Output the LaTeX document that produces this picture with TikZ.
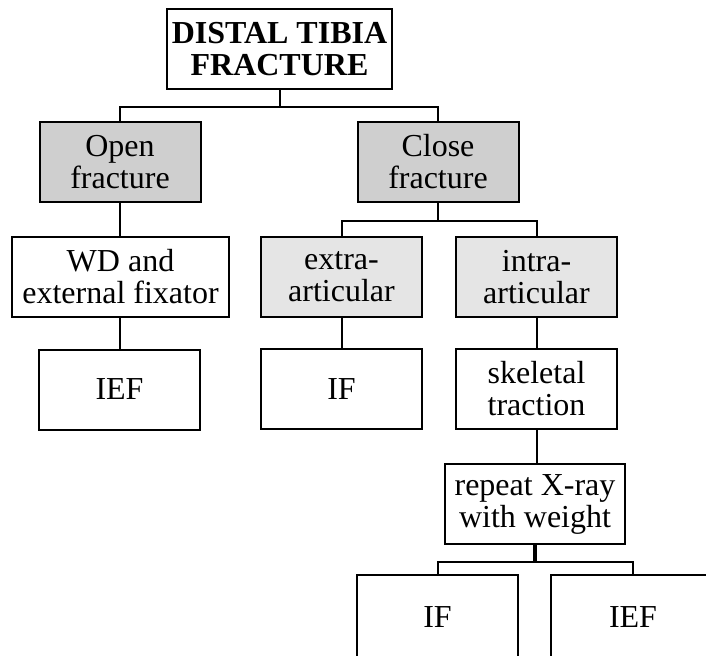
\documentclass[tikz,border=0pt]{standalone}
\usepackage{fontspec}
\setmainfont{Liberation Serif}
\usepackage{tikz}
\definecolor{fracture gray}{rgb}{0.81, 0.81, 0.81}
\definecolor{articular gray}{rgb}{0.90, 0.90, 0.90}

\begin{document}
\begin{tikzpicture}[x=0.5pt, y=-0.5pt,
		box/.style={draw, line width=1pt, fill=white, align=center, inner sep=0pt,
			minimum width=80.5pt, minimum height=40pt, font=\fontsize{16}{16}\selectfont},
		link/.style={line width=1pt}]
			\useasboundingbox (0, 0) rectangle (706, 655);
			\clip (0, 0) rectangle (706, 655);
			% root
			\node[box, minimum width=112.5pt, font=\fontsize{16}{16}\selectfont\bfseries] (root) at (279.5, 49) {DISTAL TIBIA\\FRACTURE};
			% open side
			\node[box, fill=fracture gray] (open) at (120, 162) {Open\\fracture};
			\node[box, minimum width=108.5pt] (wd) at (120.5, 276.5) {WD and\\external fixator};
			\node[box] (iefleft) at (119.5, 389.5) {IEF};
			% closed side
			\node[box, fill=fracture gray] (close) at (438, 162) {Close\\fracture};
			\node[box, fill=articular gray] (extra) at (341.5, 277) {extra-\\articular};
			\node[box, fill=articular gray] (intra) at (536.5, 277) {intra-\\articular};
			\node[box] (ifmid) at (341.5, 389) {IF};
			\node[box] (traction) at (536.5, 389) {skeletal\\traction};
			\node[box, minimum width=90pt] (xray) at (535, 504) {repeat X-ray\\with weight};
			% bottom row, cut by the page edge
			\node[box, minimum height=42pt] (ifbottom) at (437.5, 617) {IF};
			\node[box, minimum height=42pt, minimum width=82pt] (iefbottom) at (633, 617) {IEF};
			% connectors
			\draw[link] (root.south) -- ++(0, 17) coordinate (rootjoin);
			\draw[link] (open.north) |- (rootjoin) -| (close.north);
			\draw[link] (open.south) -- (open.south |- wd.north);
			\draw[link] (open.south |- wd.south) -- (open.south |- iefleft.north);
			\draw[link] (close.south) -- ++(0, 18) coordinate (closejoin);
			\draw[link] (extra.north) |- (closejoin) -| (intra.north);
			\draw[link] (extra) -- (ifmid);
			\draw[link] (intra) -- (traction);
			\draw[link] (traction.south) -- (traction.south |- xray.north);
			\draw[link, line width=2pt] (xray.south) -- ++(0, 17) coordinate (xrayjoin);
			\draw[link] (ifbottom.north) |- (xrayjoin) -| (iefbottom.north);
\end{tikzpicture}
\end{document}
